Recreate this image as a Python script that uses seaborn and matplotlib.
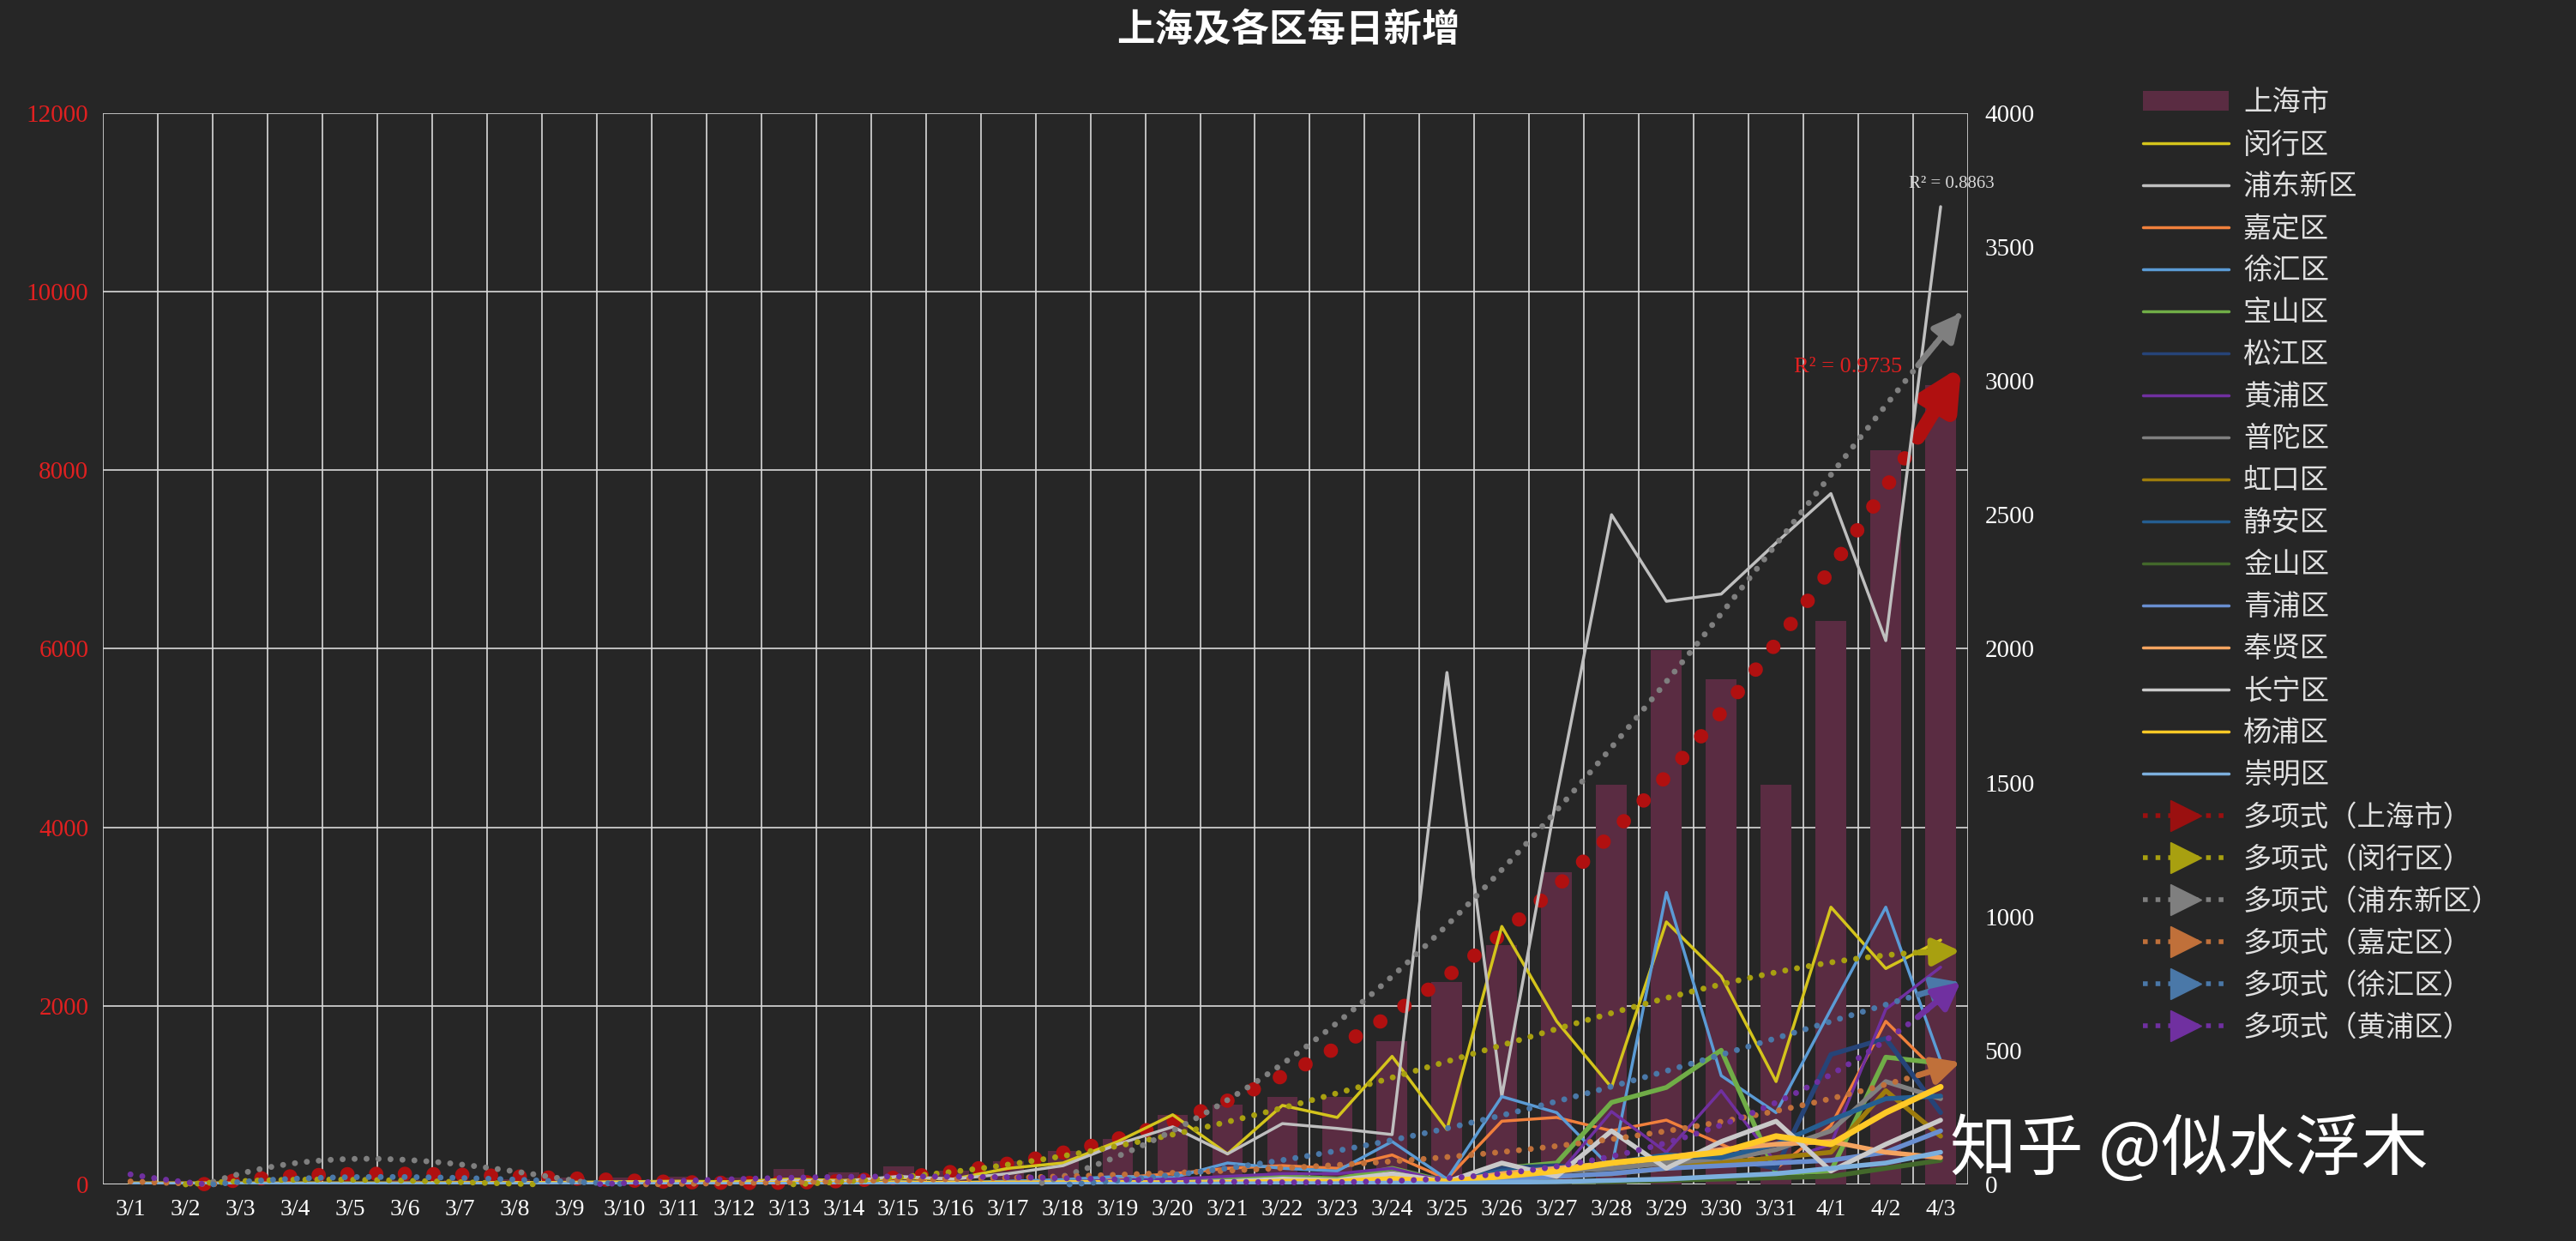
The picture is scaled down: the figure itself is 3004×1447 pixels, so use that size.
import numpy as np
import pandas as pd
import matplotlib
matplotlib.use("Agg")
import matplotlib.pyplot as plt
from matplotlib.lines import Line2D
from matplotlib.patches import Patch
import seaborn as sns

dates = ["3/%d" % d for d in range(1, 32)] + ["4/1", "4/2", "4/3"]
city = [2,3,2,3,2,45,50,62,76,81,83,76,169,130,202,158,260,374,509,
        782,896,981,983,1609,2269,2676,3500,4477,5982,5653,4477,6311,8226,8950]

minhang   = [0,0,1,0,1,3,5,6,8,10,12,10,20,15,25,20,60,80,160, 260,114,295,250,478,205,963,609,362,980,777,384,1035,806,912]
pudong    = [0,0,0,0,1,2,4,5,6,8,8,6,15,12,30,20,40,70,150, 215,114,227,209,186,1911,328,1450,2500,2177,2204,2395,2579,2030,3650]
jiading   = [0,0,0,0,0,1,1,2,2,3,3,2,5,4,8,5,10,15,25, 40,60,70,60,110,20,236,250,200,240,150,60,220,609,406]
xuhui     = [0,0,0,0,0,1,2,2,3,3,3,2,6,5,10,6,12,18,30, 25,80,60,50,160,20,328,268,60,1090,406,268,654,1035,462]
baoshan   = [0,0,0,0,0,0,1,1,1,2,2,1,3,2,5,3,5,8,10, 10,20,30,20,60,10,60,80,306,362,501,40,50,475,452]
songjiang = [0,0,0,0,0,0,1,1,1,1,1,1,2,2,3,2,4,5,6, 5,10,20,15,30,10,60,70,50,90,100,60,485,545,268]
huangpu   = [0,0,0,0,0,1,1,1,2,2,2,1,3,3,5,3,8,10,15, 20,30,40,40,60,10,40,30,272,120,350,80,150,654,811]
putuo     = [0,0,0,0,0,0,1,1,1,1,1,1,2,1,3,2,3,4,5, 5,10,15,10,30,10,40,50,60,80,90,130,200,384,320]
hongkou   = [0,0,0,0,0,0,0,1,1,1,1,0,1,1,2,1,2,2,3, 2,5,10,5,20,5,20,30,40,60,80,100,120,350,180]
jingan    = [0,0,0,0,0,0,1,1,1,1,1,1,2,2,3,2,3,4,5, 5,10,15,10,20,10,50,60,80,110,100,150,240,320,330]
jinshan   = [0,0,0,0,0,0,0,0,0,0,0,0,1,0,1,0,1,1,1, 1,2,3,2,5,2,5,10,10,15,20,25,30,60,90]
qingpu    = [0,0,0,0,0,0,0,1,1,1,1,1,1,1,2,1,2,3,3, 3,5,8,6,10,5,20,30,40,60,70,80,90,120,200]
fengxian  = [0,0,0,0,0,0,1,1,1,1,1,1,2,2,3,2,3,4,5, 5,10,15,10,20,10,40,60,80,100,130,150,160,120,100]
changning = [0,0,0,0,0,1,1,1,2,2,2,1,3,3,5,3,5,6,8, 5,10,20,15,40,10,80,30,200,60,160,236,50,150,240]
yangpu    = [0,0,0,0,0,0,1,1,1,1,1,1,2,1,3,2,3,4,5, 3,5,10,10,20,10,30,50,80,100,120,180,150,268,364]
chongming = [0,0,0,0,0,0,0,0,0,0,0,0,1,0,1,0,1,1,1, 1,2,3,3,5,2,8,10,15,20,30,40,60,80,120]

districts = ["闵行区","浦东新区","嘉定区","徐汇区","宝山区","松江区","黄浦区","普陀区",
             "虹口区","静安区","金山区","青浦区","奉贤区","长宁区","杨浦区","崇明区"]
series = [minhang,pudong,jiading,xuhui,baoshan,songjiang,huangpu,putuo,
          hongkou,jingan,jinshan,qingpu,fengxian,changning,yangpu,chongming]
colors = ["#d4c41c","#bfbfbf","#f0803c","#5b9bd5","#70ad47","#264478","#7030a0","#808080",
          "#9e7c0c","#255e91","#43682b","#698ed0","#f4a460","#c9c9c9","#ffc926","#7cafdd"]
widths = [2.5,2.5,2.5,2.5,4,4,2.5,4,4,4,4,4,4,4,5,4]
trend_of = {"闵行区":"#a8a010","浦东新区":"#7f7f7f","嘉定区":"#c0703a","徐汇区":"#4a78a8","黄浦区":"#7030a0"}

BG = "#262626"
sns.set_theme(style="dark")
plt.rcParams['font.family'] = ['Noto Sans CJK SC', 'DejaVu Sans']

fig = plt.figure(figsize=(30.04, 14.47), dpi=100, facecolor=BG)
ax = fig.add_axes([0.04, 0.0456, 0.724, 0.8634], facecolor=BG)
ax2 = ax.twinx()
n = len(dates)
x = np.arange(n)

df = pd.DataFrame({"x": x, "city": city})
sns.barplot(data=df, x="x", y="city", color="#5a2c42", width=0.56, ax=ax, native_scale=True,
            zorder=2, edgecolor="none", linewidth=0, saturation=1)
ax.set_xlim(-0.5, n - 0.5)
ax.set_ylim(0, 12000)
ax2.set_ylim(0, 4000)

for name, s, c, w in zip(districts, series, colors, widths):
    sns.lineplot(x=x, y=s, color=c, lw=w, ax=ax2, zorder=3)

xe = np.linspace(0, n - 1 + 0.4, 200)
def trend(axx, y, color, lw, ms, deg, hl, hw):
    cf = np.polyfit(x, y, deg)
    ye = np.polyval(cf, xe)
    ym = np.where(ye < 0, np.nan, ye)
    axx.plot(xe, ym, color=color, lw=lw, ls=(0, (0.01, ms)), dash_capstyle="round", zorder=4, clip_on=False)
    axx.annotate("", xy=(xe[-1], ye[-1]), xytext=(xe[-6], ye[-6]),
                 arrowprops=dict(arrowstyle="-|>,head_length=%g,head_width=%g" % (hl, hw), color=color, lw=lw),
                 zorder=5, annotation_clip=False)

trend(ax, city, "#b01010", 12, 2.0, 4, 2.2, 1.1)
for name, col in trend_of.items():
    trend(ax2, series[districts.index(name)], col, 5, 2.0, 4, 1.6, 0.8)

ax.text(n - 1.7, 9100, "R² = 0.9735", color="#e02020", fontsize=19, family="Liberation Serif", ha="right", zorder=6)
ax2.text(n - 0.8, 3720, "R² = 0.8863", color="#d9d9d9", fontsize=15, family="Liberation Serif", ha="center", zorder=6)

for b in np.arange(-0.5, n, 1):
    ax.axvline(b, color="#d9d9d9", lw=1.2, zorder=1)
for yv in range(2000, 12001, 2000):
    ax.axhline(yv, color="#d9d9d9", lw=1.2, zorder=1)
ax.grid(False); ax2.grid(False)
for a in (ax, ax2):
    for sp in a.spines.values():
        sp.set_visible(False)
ax.axhline(0, color="#d9d9d9", lw=1.5, zorder=1)

ax.set_xticks(x)
ax.set_xticklabels(dates, color="white", fontsize=20, family="Liberation Serif")
ax.set_yticks(range(0, 12001, 2000))
ax.set_yticklabels([str(v) for v in range(0, 12001, 2000)], color="#e02020", fontsize=21, family="Liberation Serif")
ax2.set_yticks(range(0, 4001, 500))
ax2.set_yticklabels([str(v) for v in range(0, 4001, 500)], color="white", fontsize=21, family="Liberation Serif")
ax.tick_params(length=0, pad=12)
ax2.tick_params(length=0, pad=14)
ax.set_xlabel(""); ax.set_ylabel(""); ax2.set_ylabel("")

fig.text(0.5, 0.976, "上海及各区每日新增", color="white", fontsize=32, weight="bold", ha="center", va="center")

handles = [Patch(facecolor="#5a2c42", edgecolor="none")]
labels = ["上海市"]
for name, c in zip(districts, colors):
    handles.append(Line2D([], [], color=c, lw=2.5)); labels.append(name)
for name, col in [("上海市", "#9a1010")] + list(trend_of.items()):
    handles.append(Line2D([0, 1, 2], [0, 0, 0], color=col, lw=4, ls=":", marker=">", markersize=26, markevery=[2]))
    labels.append("多项式（%s）" % name)
leg = fig.legend(handles, labels, loc="upper left", bbox_to_anchor=(0.822, 0.95), frameon=False,
                 fontsize=24, labelcolor="#e0e0e0", handlelength=3.0, labelspacing=0.42, handletextpad=0.5)

fig.text(0.757, 0.045, "知乎 @似水浮木", color="white", fontsize=56, ha="left", va="bottom", zorder=10)
fig.savefig("out.png", dpi=100, facecolor=BG)
